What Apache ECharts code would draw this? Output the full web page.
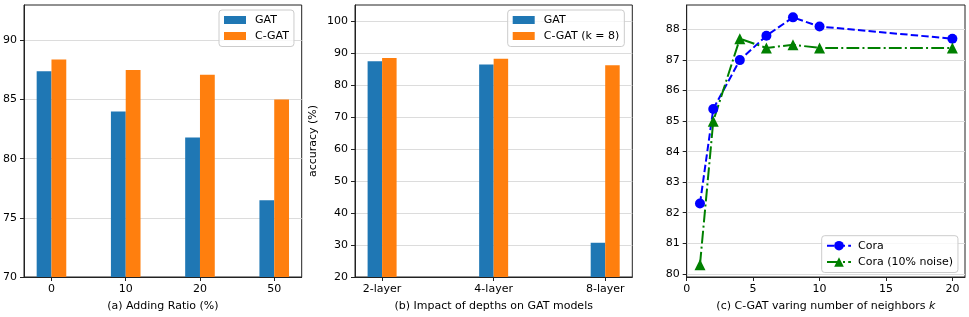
<!DOCTYPE html>
<html>
<head>
<meta charset="utf-8">
<script src="https://cdn.jsdelivr.net/npm/echarts@6/dist/echarts.min.js"></script>
<style>
html,body{margin:0;padding:0;background:#fff;}
#chart{width:969px;height:317px;}
</style>
</head>
<body>
<div id="chart"></div>
<script>
// ---- data ----
const catsA = ['0', '10', '20', '50'];
const gatA = [87.4, 84.0, 81.8, 76.5];
const cgatA = [88.4, 87.5, 87.1, 85.0];
const ticksA = [70, 75, 80, 85, 90];

const catsB = ['2-layer', '4-layer', '8-layer'];
const gatB = [87.4, 86.4, 30.7];
const cgatB = [88.4, 88.2, 86.2];
const ticksB = [20, 30, 40, 50, 60, 70, 80, 90, 100];

const kC = [1, 2, 4, 6, 8, 10, 20];
const cora = [82.3, 85.4, 87.0, 87.8, 88.4, 88.1, 87.7];
const coraNoise = [80.3, 85.0, 87.7, 87.4, 87.5, 87.4, 87.4];
const ticksCx = [0, 5, 10, 15, 20];
const ticksCy = [80, 81, 82, 83, 84, 85, 86, 87, 88];

const titleA = '(a) Adding Ratio (%)';
const titleB = '(b) Impact of depths on GAT models';
const titleC = '(c) C-GAT varing number of neighbors ';
const yTitle = 'accuracy (%)';

// ---- styles ----
const FONT = 'DejaVu Sans';
const FS = 11;
const BLUE = '#1f77b4', ORANGE = '#ff7f0e';
const GRIDC = '#dcdcdc';
const FRAME = '#222';
const txt = {fontFamily: FONT, fontSize: FS, color: '#000'};

const grids = [
  {left: 24, top: 5, width: 277.7, height: 272.7},
  {left: 355, top: 5, width: 277.3, height: 272.7},
  {left: 686.7, top: 5, width: 278.3, height: 272.7}
].map(g => Object.assign(g, {show: true, borderColor: FRAME, borderWidth: 1, backgroundColor: 'transparent', containLabel: false}));

function xAx(i, min, max, vals, fmt, name) {
  return {
    type: 'value', gridIndex: i, min: min, max: max, z: 5,
    axisLine: {show: true, onZero: false, lineStyle: {color: FRAME, width: 1}},
    axisTick: {show: true, length: 4, customValues: vals, lineStyle: {color: FRAME}},
    axisLabel: Object.assign({customValues: vals, margin: 7, formatter: fmt}, txt),
    splitLine: {show: false},
    name: name, nameLocation: 'middle', nameGap: 24,
    nameTextStyle: txt
  };
}
function yAx(i, min, max, vals, name) {
  const o = {
    type: 'value', gridIndex: i, min: min, max: max,
    axisLine: {show: true, onZero: false, lineStyle: {color: FRAME, width: 1}},
    axisTick: {show: true, length: 4, customValues: vals, lineStyle: {color: FRAME}},
    axisLabel: Object.assign({customValues: vals, margin: 7}, txt),
    splitLine: {show: true, lineStyle: {color: GRIDC, width: 1}}
  };
  if (name) {
    o.name = name; o.nameLocation = 'middle'; o.nameGap = 36; o.nameRotate = 90;
    o.nameTextStyle = txt;
  }
  return o;
}

const legendBase = {
  orient: 'vertical', itemGap: 3, padding: [3.5, 5, 4, 5],
  borderColor: '#cccccc', borderWidth: 1, borderRadius: 3,
  backgroundColor: 'rgba(255,255,255,0.8)',
  textStyle: Object.assign({lineHeight: 13, padding: [0, 0, 0, 4]}, txt)
};

const option = {
  animation: false,
  backgroundColor: '#fff',
  grid: grids,
  xAxis: [
    xAx(0, -0.37, 3.37, [0, 1, 2, 3], v => catsA[Math.round(v)], titleA),
    xAx(1, -0.243, 2.243, [0, 1, 2], v => catsB[Math.round(v)], titleB),
    xAx(2, 0, 20.95, ticksCx, v => String(v), '')
  ],
  yAxis: [
    yAx(0, 70, 93, ticksA),
    yAx(1, 20, 105, ticksB, yTitle),
    yAx(2, 79.895, 88.805, ticksCy)
  ],
  legend: [
    Object.assign({}, legendBase, {left: 219, top: 10, data: ['GAT', 'C-GAT'], icon: 'rect', itemWidth: 22, itemHeight: 8}),
    Object.assign({}, legendBase, {left: 507.7, top: 10, data: ['GAT', 'C-GAT (k = 8)'], icon: 'rect', itemWidth: 22, itemHeight: 8}),
    Object.assign({}, legendBase, {left: 821.7, top: 235.7, data: ['Cora', 'Cora (10% noise)'], itemWidth: 24, itemHeight: 12,
      padding: [3.5, 5, 4, 4.3], textStyle: Object.assign({lineHeight: 13, padding: [0, 0, 0, 2]}, txt), itemGap: 3.3})
  ],
  series: [
    {type: 'bar', name: 'GAT', xAxisIndex: 0, yAxisIndex: 0, barWidth: 14.8, barGap: '0%',
      itemStyle: {color: BLUE}, data: gatA.map((v, i) => [i, v])},
    {type: 'bar', name: 'C-GAT', xAxisIndex: 0, yAxisIndex: 0, barWidth: 14.8, barGap: '0%',
      itemStyle: {color: ORANGE}, data: cgatA.map((v, i) => [i, v])},
    {type: 'bar', name: 'GAT', xAxisIndex: 1, yAxisIndex: 1, barWidth: 14.5, barGap: '0%',
      itemStyle: {color: BLUE}, data: gatB.map((v, i) => [i, v])},
    {type: 'bar', name: 'C-GAT (k = 8)', xAxisIndex: 1, yAxisIndex: 1, barWidth: 14.5, barGap: '0%',
      itemStyle: {color: ORANGE}, data: cgatB.map((v, i) => [i, v])},
    {type: 'line', name: 'Cora', xAxisIndex: 2, yAxisIndex: 2, symbol: 'circle', symbolSize: 10,
      itemStyle: {color: '#0000ff'}, lineStyle: {color: '#0000ff', width: 2, type: [7.4, 3.2]},
      data: kC.map((k, i) => [k, cora[i]])},
    {type: 'line', name: 'Cora (10% noise)', xAxisIndex: 2, yAxisIndex: 2, symbol: 'triangle', symbolSize: 11,
      itemStyle: {color: '#008000'}, lineStyle: {color: '#008000', width: 2, type: [12.8, 3.2, 2, 3.2]},
      data: kC.map((k, i) => [k, coraNoise[i]])}
  ]
};
// x-axis title for panel (c) with italic k, via rich text
option.xAxis[2].name = '{n|' + titleC + '}{k|k}';
option.xAxis[2].nameTextStyle = Object.assign({}, txt, {
  rich: {n: Object.assign({}, txt), k: Object.assign({fontStyle: 'italic'}, txt)}
});
const chart = echarts.init(document.getElementById('chart'), null, {renderer: 'canvas'});
chart.setOption(option);
</script>
</body>
</html>
